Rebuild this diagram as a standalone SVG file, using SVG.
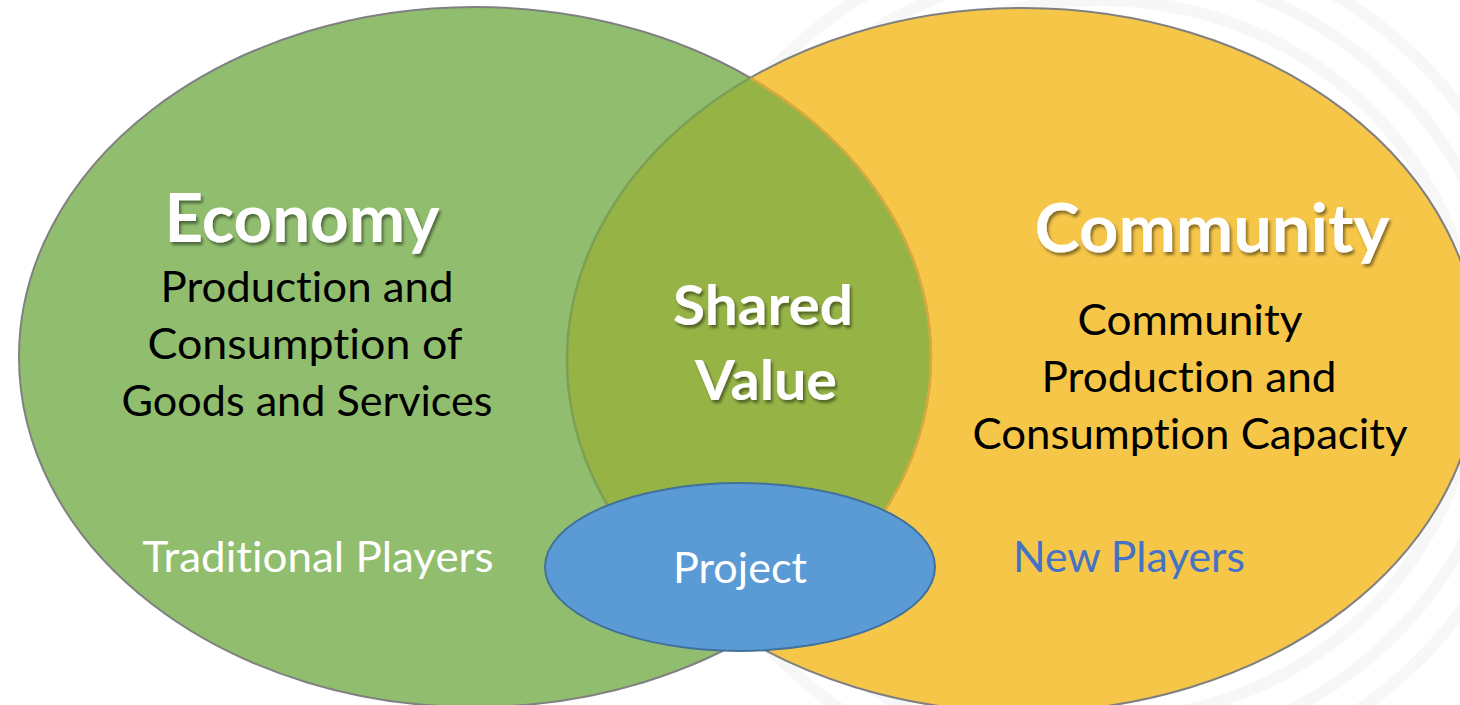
<svg xmlns="http://www.w3.org/2000/svg" width="1460" height="705" viewBox="0 0 1460 705">
  <style>
    text { font-variant-ligatures: none; font-feature-settings: "liga" 0, "dlig" 0; }
    .title { font-family: Lato, "Open Sans", "Liberation Sans", sans-serif; font-weight: 700; fill: #ffffff; text-anchor: middle; }
    .body { font-family: Lato, "Open Sans", "Liberation Sans", sans-serif; font-weight: 400; fill: #000000; text-anchor: middle; font-size: 43px; }
    .white { fill: #ffffff; }
    .blue { fill: #4472c4; }
    .swirl { fill: none; stroke: #f7f7f7; stroke-width: 12; }
  </style>
  <defs>
    <filter id="shadow" x="-10%" y="-20%" width="130%" height="150%">
      <feDropShadow dx="2" dy="3" stdDeviation="1.5" flood-color="#000000" flood-opacity="0.45"/>
    </filter>
    <clipPath id="clipYellow">
      <ellipse cx="1023" cy="360" rx="456" ry="352"/>
    </clipPath>
    <clipPath id="clipGreen">
      <ellipse cx="475" cy="357" rx="456" ry="350"/>
    </clipPath>
  </defs>

  <rect x="0" y="0" width="1460" height="705" fill="#ffffff"/>
  <g id="background-swirl">
    <ellipse class="swirl" cx="1100" cy="360" rx="375" ry="360"/>
    <ellipse class="swirl" cx="1100" cy="360" rx="410" ry="395"/>
    <ellipse class="swirl" cx="1100" cy="360" rx="445" ry="430"/>
  </g>

  <g id="community">
    <ellipse cx="1023" cy="360" rx="456" ry="352" fill="#f5c648" stroke="#808080" stroke-width="2"/>
  </g>
  <g id="economy">
    <ellipse cx="475" cy="357" rx="456" ry="350" fill="#91be6e" stroke="#808080" stroke-width="2"/>
  </g>
  <g id="shared-value">
    <ellipse cx="475" cy="357" rx="456" ry="350" fill="#96b446" clip-path="url(#clipYellow)"/>
    <ellipse cx="475" cy="357" rx="456" ry="350" fill="none" stroke="#d8a93c" stroke-width="2.5" clip-path="url(#clipYellow)"/>
    <ellipse cx="1023" cy="360" rx="456" ry="352" fill="none" stroke="#7c9f55" stroke-width="2.5" clip-path="url(#clipGreen)"/>
  </g>
  <g id="project">
    <ellipse cx="740" cy="567" rx="195" ry="84" fill="#5b9bd5" stroke="#41719c" stroke-width="2"/>
    <text class="body white" x="740" y="583" font-size="42" textLength="134" lengthAdjust="spacingAndGlyphs">Project</text>
  </g>

  <g id="labels">
    <text class="title" x="302" y="242" font-size="66" filter="url(#shadow)" textLength="275" lengthAdjust="spacingAndGlyphs">Economy</text>
    <text class="body" x="307" y="302" textLength="293" lengthAdjust="spacingAndGlyphs">Production and</text>
    <text class="body" x="305" y="359" textLength="315" lengthAdjust="spacingAndGlyphs">Consumption of</text>
    <text class="body" x="307" y="416" textLength="371" lengthAdjust="spacingAndGlyphs">Goods and Services</text>
    <text class="body white" x="318" y="572" textLength="351" lengthAdjust="spacingAndGlyphs">Traditional Players</text>

    <text class="title" x="763" y="325" font-size="56" filter="url(#shadow)" textLength="180" lengthAdjust="spacingAndGlyphs">Shared</text>
    <text class="title" x="766" y="400" font-size="56" filter="url(#shadow)" textLength="142" lengthAdjust="spacingAndGlyphs">Value</text>

    <text class="title" x="1212" y="252" font-size="66" filter="url(#shadow)" textLength="355" lengthAdjust="spacingAndGlyphs">Community</text>
    <text class="body" x="1190" y="335" textLength="225" lengthAdjust="spacingAndGlyphs">Community</text>
    <text class="body" x="1189" y="392" textLength="295" lengthAdjust="spacingAndGlyphs">Production and</text>
    <text class="body" x="1190" y="449" textLength="435" lengthAdjust="spacingAndGlyphs">Consumption Capacity</text>
    <text class="body blue" x="1129" y="572" textLength="232" lengthAdjust="spacingAndGlyphs">New Players</text>
  </g>
</svg>
